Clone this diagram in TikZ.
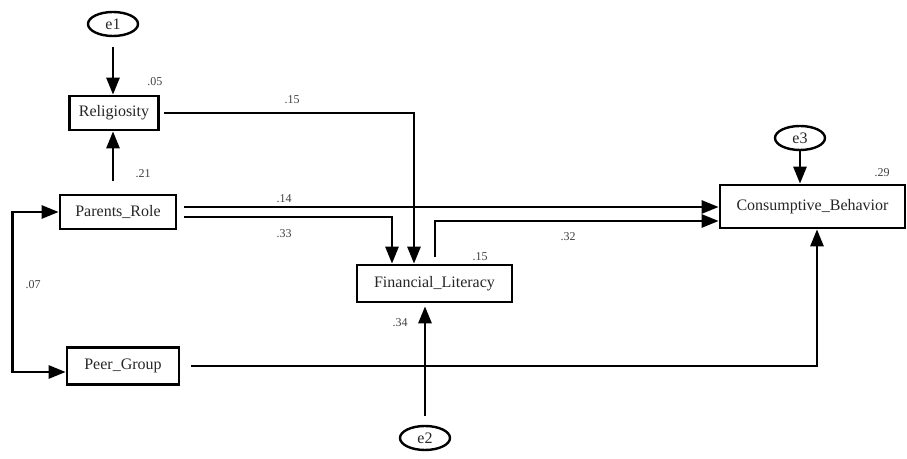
\documentclass[tikz,border=0pt]{standalone}
\usepackage{fontspec}
\setmainfont{Liberation Serif}
\usetikzlibrary{arrows.meta,shapes.geometric}

\begin{document}
\begin{tikzpicture}[x=0.5pt,y=-0.5pt,
  obs/.style={draw,line width=1.35pt,inner sep=0pt,text=black!85,font=\fontsize{8}{9}\selectfont},
  err/.style={draw,ellipse,line width=1.2pt,inner sep=0pt,minimum width=25pt,minimum height=12pt,text=black!85,font=\fontsize{8}{9}\selectfont},
  link/.style={line width=1.35pt,-{Triangle[length=8.5pt,width=6.5pt]}},
  coef/.style={inner sep=0pt,text=black!75,font=\fontsize{6}{7}\selectfont}]
\useasboundingbox (0,0) rectangle (907,459);
% ---- observed variables
\node[obs,minimum width=44.5pt,minimum height=17pt]   (rel)  at (114,113)   {Religiosity};
\node[obs,minimum width=58pt,minimum height=17pt]     (par)  at (118,212)   {Parents\_Role};
\node[obs,minimum width=56pt,minimum height=18.5pt]   (peer) at (123,366)   {Peer\_Group};
\node[obs,minimum width=77.5pt,minimum height=18.5pt] (fin)  at (434.5,283.5) {Financial\_Literacy};
\node[obs,minimum width=92.5pt,minimum height=21.5pt] (cons) at (812.5,206.5) {Consumptive\_Behavior};
% ---- error terms
\node[err] (e1) at (113,24)  {e1};
\node[err] (e2) at (425,438) {e2};
\node[err] (e3) at (800,138) {e3};
% ---- paths
\draw[link,shorten <=5pt] (e1.south) -- (e1.south |- rel.north);
\draw[link,shorten <=6.5pt] (e1.south |- par.north) -- (e1.south |- rel.south);
\draw[link,shorten <=2pt] (rel.east) -| ([xshift=-10.25pt]fin.north);
\draw[link,shorten <=3.5pt] ([yshift=2.5pt]par.east) -- ([yshift=2.5pt]par.east -| cons.west);
\draw[link,shorten <=3.5pt] ([yshift=-2.5pt]par.east) -| ([xshift=-21.25pt]fin.north);
\draw[link,shorten <=3.5pt] ([xshift=0.3pt]fin.north) |- ([yshift=-7.25pt]cons.west);
\draw[link,shorten <=5.5pt] (peer.east) -| ([xshift=2.25pt]cons.south);
\draw[link,shorten <=4.5pt,shorten >=1.5pt] (e2.north) -- (e2.north |- fin.south);
\draw[link] (e3.south) -- (e3.south |- cons.north);
% ---- covariance
\draw[line width=1.35pt,{Triangle[length=8.5pt,width=6.5pt]}-{Triangle[length=8.5pt,width=6.5pt]}]
  (par.west) -- ++(-46,0) |- ([yshift=-3pt]peer.west);
% ---- estimates
\node[coef] (c1)  at (155,82)  {.05};
\node[coef] (c2)  at (143,174) {.21};
\node[coef] (c3)  at (292,100) {.15};
\node[coef] (c4)  at (284,199) {.14};
\node[coef] (c5)  at (284,234) {.33};
\node[coef] (c6)  at (33,285)  {.07};
\node[coef] (c7)  at (480,257) {.15};
\node[coef] (c8)  at (568,237) {.32};
\node[coef] (c9)  at (400,323) {.34};
\node[coef] (c10) at (882,173) {.29};
\end{tikzpicture}
\end{document}
